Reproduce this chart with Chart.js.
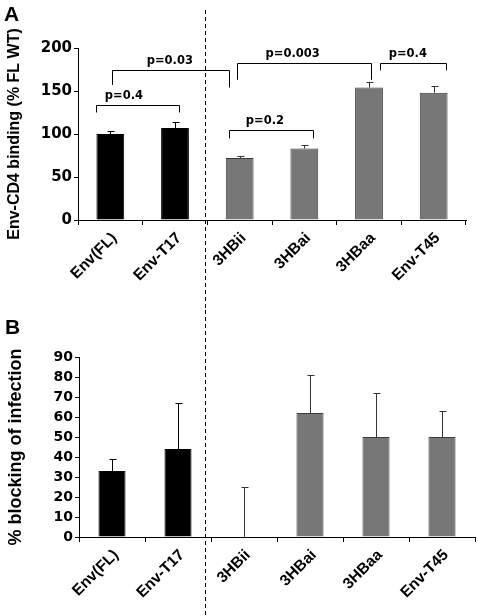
<!DOCTYPE html>
<html><head><meta charset="utf-8">
<script src="https://cdn.jsdelivr.net/npm/chart.js@4/dist/chart.umd.min.js"></script>
<style>
html,body{margin:0;padding:0;background:#fff;width:478px;height:616px;overflow:hidden;}
#wrapA{position:absolute;left:0;top:0;width:478px;height:310px;}
#wrapB{position:absolute;left:0;top:310px;width:478px;height:306px;}
.panel{position:absolute;font:bold 21px "Liberation Sans",Arial,sans-serif;color:#000;line-height:1;}
</style></head><body>
<div id="wrapA"><canvas id="cA" width="478" height="310"></canvas></div>
<div id="wrapB"><canvas id="cB" width="478" height="306"></canvas></div>
<div class="panel" style="left:4px;top:3px">A</div>
<div class="panel" style="left:5px;top:316px">B</div>
<script>
// ---- data ----
const categories = ['Env(FL)', 'Env-T17', '3HBii', '3HBai', '3HBaa', 'Env-T45'];
const bindingValues = [100, 107, 72, 83, 154, 148];
const bindingErrors = [4, 7, 3, 4, 6, 8];
const blockingValues = [33, 44, 0, 62, 50, 50];
const blockingErrors = [6, 23, 25, 19, 22, 13];
const bindingTicks = [0, 50, 100, 150, 200];
const blockingTicks = [0, 10, 20, 30, 40, 50, 60, 70, 80, 90];
// p-value brackets for panel A (category positions, value levels)
const pLabels = ['p=0.4', 'p=0.03', 'p=0.003', 'p=0.4', 'p=0.2'];
const bracketFrom = [-0.22, 0.03, 1.96, 4.17, 1.83];
const bracketTo = [1.06, 1.83, 4.03, 5.19, 3.13];
const bracketLevel = [134, 174, 182, 182, 105];
const bracketLeftEnd = [125, 157, 163, 174, 95];
const bracketRightEnd = [125, 154, 163, 174, 95];
const pLabelAt = [0.21, 0.92, 2.82, 4.6, 2.39];

const FONT = '"Liberation Sans", Arial, Helvetica, sans-serif';
const WIDE = '"DejaVu Sans", "Liberation Sans", Arial, sans-serif';
const fillFor = i => i < 2 ? '#000000' : '#777777';
const borderFor = i => i < 2 ? '#000000' : '#3a3a3a';
let dividerX = null;

function errorBars(errors) {
  return {
    id: 'errbars',
    afterDatasetsDraw(chart) {
      const meta = chart.getDatasetMeta(0), y = chart.scales.y, ctx = chart.ctx;
      const vals = chart.data.datasets[0].data;
      ctx.save();
      ctx.lineWidth = 1;
      meta.data.forEach((bar, i) => {
        ctx.strokeStyle = i < 2 ? '#000' : '#333';
        const x = Math.round(bar.x) + 0.5;
        const y0 = y.getPixelForValue(vals[i]);
        const y1 = Math.round(y.getPixelForValue(vals[i] + errors[i])) + 0.5;
        ctx.beginPath();
        ctx.moveTo(x, y0); ctx.lineTo(x, y1);
        ctx.moveTo(x - 3, y1); ctx.lineTo(x + 4, y1);
        ctx.stroke();
      });
      ctx.restore();
    }
  };
}

const bracketPlugin = {
  id: 'brackets',
  afterDatasetsDraw(chart) {
    const xs = chart.scales.x, ys = chart.scales.y, ctx = chart.ctx;
    const p0 = xs.getPixelForValue(0), step = xs.getPixelForValue(1) - p0;
    const px = f => p0 + f * step;
    ctx.save();
    ctx.strokeStyle = '#000'; ctx.fillStyle = '#000'; ctx.lineWidth = 1;
    ctx.font = 'bold 11.5px ' + WIDE; ctx.textAlign = 'center'; ctx.textBaseline = 'bottom';
    for (let i = 0; i < pLabels.length; i++) {
      const xl = Math.round(px(bracketFrom[i])) + 0.5, xr = Math.round(px(bracketTo[i])) + 0.5;
      const yl = Math.round(ys.getPixelForValue(bracketLevel[i])) + 0.5;
      ctx.beginPath();
      ctx.moveTo(xl, ys.getPixelForValue(bracketLeftEnd[i]));
      ctx.lineTo(xl, yl); ctx.lineTo(xr, yl);
      ctx.lineTo(xr, ys.getPixelForValue(bracketRightEnd[i]));
      ctx.stroke();
      ctx.fillText(pLabels[i], px(pLabelAt[i]), yl - 4);
    }
    ctx.restore();
  }
};

function dividerPlugin(topY) {
  return {
    id: 'divider',
    afterDraw(chart) {
      const xs = chart.scales.x;
      if (dividerX === null) dividerX = Math.round((xs.getPixelForValue(1) + xs.getPixelForValue(2)) / 2) - 2;
      const ctx = chart.ctx;
      ctx.save();
      ctx.strokeStyle = '#000'; ctx.lineWidth = 1; ctx.setLineDash([4, 3]);
      ctx.beginPath(); ctx.moveTo(dividerX + 0.5, topY); ctx.lineTo(dividerX + 0.5, chart.height); ctx.stroke();
      ctx.restore();
    }
  };
}

function makeChart(id, values, errors, ticksList, yTitle, titleSize, opts) {
  const ctx = document.getElementById(id);
  return new Chart(ctx, {
    type: 'bar',
    data: {
      labels: categories,
      datasets: [{
        data: values,
        backgroundColor: values.map((v, i) => fillFor(i)),
        borderColor: values.map((v, i) => borderFor(i)),
        borderWidth: 1,
        borderSkipped: 'bottom',
        categoryPercentage: 1,
        barPercentage: opts.barPct
      }]
    },
    options: {
      responsive: false,
      animation: false,
      events: [],
      layout: { padding: { left: 0, right: opts.padRight, top: opts.top, bottom: 0 } },
      plugins: { legend: { display: false }, tooltip: { enabled: false } },
      scales: {
        x: {
          afterFit(s) { s.height = opts.xHeight; },
          grid: { display: true, drawOnChartArea: false, drawTicks: true, tickLength: 5, color: '#000', lineWidth: 1, offset: true },
          border: { display: true, color: '#000', width: 1 },
          ticks: { color: '#000', font: { family: FONT, size: 15.5, weight: 'bold' }, maxRotation: 45, minRotation: 45, padding: opts.xPad, labelOffset: 4, autoSkip: false }
        },
        y: {
          min: ticksList[0], max: ticksList[ticksList.length - 1],
          afterFit(s) { s.width = opts.left; },
          afterBuildTicks(s) { s.ticks = ticksList.map(v => ({ value: v })); },
          grid: { display: true, drawOnChartArea: false, drawTicks: true, tickLength: opts.tickLen, color: '#000', lineWidth: 1 },
          border: { display: true, color: '#000', width: 1 },
          ticks: { color: '#000', font: { family: WIDE, size: opts.tickSize, weight: 'bold' }, padding: opts.yPad, autoSkip: false },
          title: { display: true, text: yTitle, color: '#000', font: { family: FONT, size: titleSize, weight: 'bold' }, padding: { top: 5, bottom: 0 } }
        }
      }
    },
    plugins: opts.plugins
  });
}

makeChart('cA', bindingValues, bindingErrors, bindingTicks, 'Env-CD4 binding (% FL WT)', 16,
  { barPct: 0.43, padRight: 12, top: 48, xHeight: 90, left: 78, tickLen: 4, yPad: 2, xPad: 4, tickSize: 15,
    plugins: [errorBars(bindingErrors), bracketPlugin, dividerPlugin(10)] });
makeChart('cB', blockingValues, blockingErrors, blockingTicks, '% blocking of infection', 18,
  { barPct: 0.41, padRight: 3, top: 47, xHeight: 79, left: 79, tickLen: 4, yPad: 2, xPad: 4, tickSize: 14,
    plugins: [errorBars(blockingErrors), dividerPlugin(0)] });
</script>
</body></html>
